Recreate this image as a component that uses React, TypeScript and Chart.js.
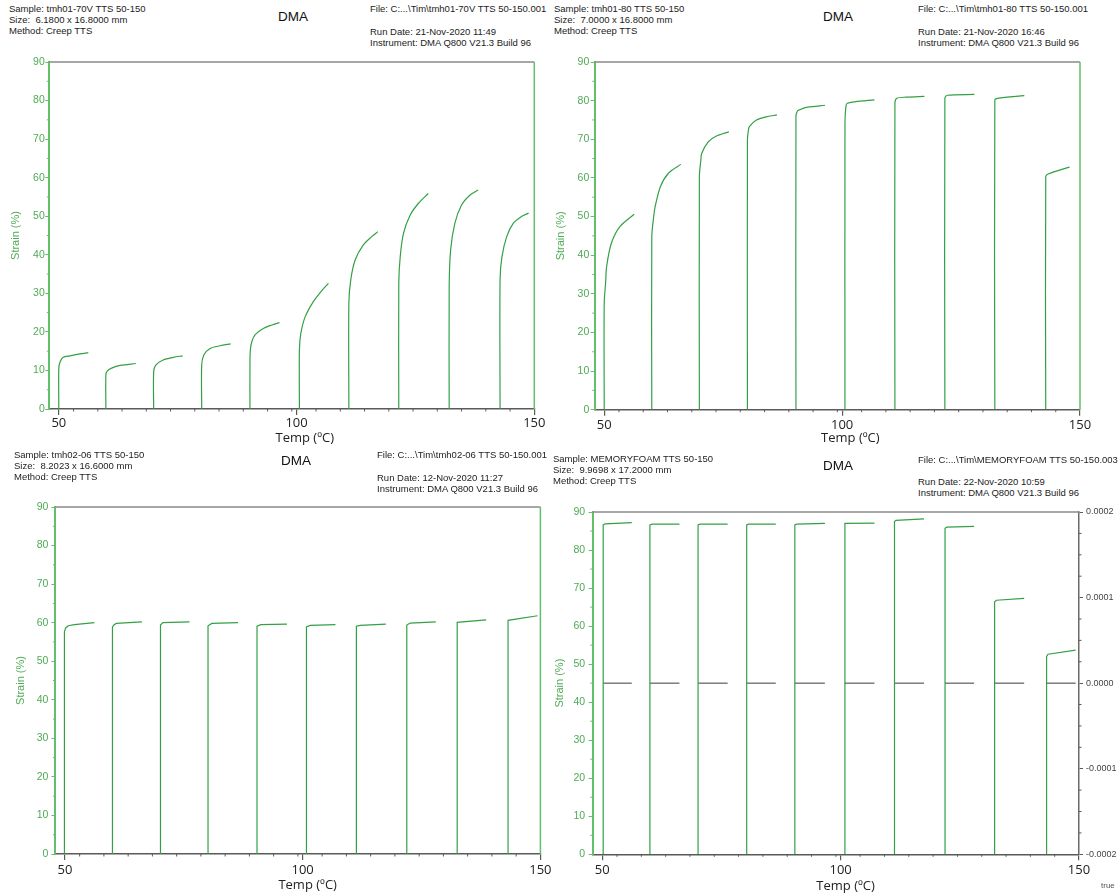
import React, { useEffect, useRef } from 'react';
import { Chart, registerables } from 'chart.js';

Chart.register(...registerables);

// ---------------- data (Temp °C / Strain %) ----------------
// Panel 1: tmh01-70V
const tmh0170vTemp: number[][] = [
  [50.0, 50.0, 50.3, 50.9, 52.35, 54.45, 56.2],
  [59.9, 59.9, 60.2, 61.1, 62.9, 66.2],
  [69.95, 69.95, 70.4, 71.95, 74.1, 76.05],
  [80.05, 80.05, 80.5, 81.8, 83.9, 86.15],
  [90.2, 90.2, 90.3, 90.6, 91.3, 93.0, 94.8, 96.4],
  [100.6, 100.6, 100.9, 101.8, 103.5, 105.3, 106.7],
  [111.0, 111.0, 111.4, 112.3, 114.0, 115.8, 117.1],
  [121.5, 121.5, 121.8, 122.5, 123.9, 125.6, 127.7],
  [132.1, 132.1, 132.4, 133.3, 134.7, 136.5, 138.2],
  [142.8, 142.8, 143.2, 144.2, 145.6, 147.3, 148.8],
];
const tmh0170vStrain: number[][] = [
  [0, 10.6, 12.3, 13.4, 13.8, 14.3, 14.6],
  [0, 8.8, 9.9, 10.6, 11.3, 11.8],
  [0, 9.7, 11.4, 12.7, 13.4, 13.8],
  [0, 11.4, 14.0, 15.7, 16.4, 16.9],
  [0, 12.0, 15.5, 17.5, 19.3, 20.9, 21.8, 22.4],
  [0, 15.3, 19.6, 23.9, 27.8, 30.7, 32.6],
  [0, 27.4, 33.5, 38.6, 42.5, 44.7, 46.0],
  [0, 32.6, 39.5, 45.6, 50.3, 53.3, 55.9],
  [0, 31.7, 41.2, 48.2, 52.9, 55.5, 56.8],
  [0, 33.5, 39.5, 44.7, 48.2, 49.9, 50.8],
];

// Panel 2: tmh01-80
const tmh0180Temp: number[][] = [
  [50.0, 50.0, 50.3, 50.5, 51.5, 53.3, 56.3],
  [60.0, 60.0, 60.4, 60.7, 61.8, 63.5, 66.1],
  [70.0, 70.0, 70.3, 70.5, 71.9, 73.5, 76.2],
  [80.1, 80.1, 80.3, 80.5, 82.0, 84.0, 86.3],
  [90.3, 90.3, 90.6, 91.0, 92.8, 96.4],
  [100.6, 100.6, 100.8, 101.1, 102.7, 106.8],
  [111.1, 111.1, 111.5, 113.5, 117.3],
  [121.6, 121.6, 122.1, 127.8],
  [132.1, 132.1, 132.7, 138.3],
  [142.8, 142.8, 143.3, 147.8],
];
const tmh0180Strain: number[][] = [
  [0, 27.5, 33.0, 37.0, 43.1, 47.4, 50.6],
  [0, 44.8, 50.0, 52.5, 57.7, 61.2, 63.5],
  [0, 60.3, 64.5, 66.4, 69.4, 70.8, 71.9],
  [0, 69.8, 72.3, 73.3, 75.0, 75.8, 76.3],
  [0, 75.9, 77.3, 77.6, 78.3, 78.8],
  [0, 74.1, 78.5, 79.3, 79.7, 80.2],
  [0, 79.3, 80.6, 80.9, 81.1],
  [0, 80.6, 81.4, 81.6],
  [0, 80.2, 80.6, 81.3],
  [0, 60.3, 61.0, 62.8],
];

// Panel 3: tmh02-06
const tmh0206Temp: number[][] = [
  [49.9, 49.9, 50.2, 50.7, 52.0, 56.2],
  [60.0, 60.0, 60.3, 60.8, 66.2],
  [70.1, 70.1, 70.6, 76.2],
  [80.1, 80.1, 80.9, 86.4],
  [90.4, 90.4, 91.2, 96.7],
  [100.8, 100.8, 101.6, 106.9],
  [111.3, 111.3, 112.1, 117.5],
  [121.9, 121.9, 122.6, 128.0],
  [132.5, 132.5, 138.6],
  [143.2, 143.2, 149.4],
];
const tmh0206Strain: number[][] = [
  [0, 57.7, 58.7, 59.2, 59.5, 60.0],
  [0, 58.9, 59.4, 59.8, 60.2],
  [0, 59.4, 60.0, 60.2],
  [0, 59.2, 59.8, 60.0],
  [0, 59.1, 59.5, 59.6],
  [0, 58.9, 59.3, 59.5],
  [0, 59.1, 59.3, 59.6],
  [0, 59.4, 59.9, 60.2],
  [0, 60.1, 60.7],
  [0, 60.6, 61.8],
];

// Panel 4: MEMORYFOAM
const memoryfoamTemp: number[][] = [
  [50.2, 50.2, 50.6, 56.2],
  [60.0, 60.0, 60.5, 66.2],
  [70.1, 70.1, 70.5, 76.3],
  [80.3, 80.3, 80.7, 86.4],
  [90.4, 90.4, 90.8, 96.7],
  [100.9, 100.9, 107.1],
  [111.3, 111.3, 111.6, 117.5],
  [121.9, 121.9, 122.3, 128.0],
  [132.3, 132.3, 132.7, 138.5],
  [143.2, 143.2, 143.5, 149.3],
];
const memoryfoamStrain: number[][] = [
  [0, 86.6, 86.9, 87.2],
  [0, 86.6, 86.8, 86.8],
  [0, 86.6, 86.8, 86.8],
  [0, 86.6, 86.8, 86.8],
  [0, 86.6, 86.8, 87.0],
  [0, 87.0, 87.1],
  [0, 87.5, 87.8, 88.2],
  [0, 85.7, 86.0, 86.2],
  [0, 66.4, 66.8, 67.3],
  [0, 52.0, 52.6, 53.7],
];
// secondary (right axis) trace of the memory foam run
const memoryfoamRightTemp: number[][] = [
  [50.2, 56.2], [60.0, 66.2], [70.1, 76.3], [80.3, 86.4], [90.4, 96.7],
  [100.9, 107.1], [111.3, 117.5], [121.9, 128.0], [132.3, 138.5], [143.2, 149.3],
];
const memoryfoamRightValue: number[][] = [
  [0, 0], [0, 0], [0, 0], [0, 0], [0, 0],
  [0, 0], [0, 0], [0, 0], [0, 0], [0, 0],
];

const xMajorTicks = [50, 100, 150];
const xMin = 48;
const xMax = 150;
const yMin = 0;
const yMax = 90;
const yStep = 10;

// ---------------- styling ----------------
const LINE_GREEN = '#34a044';
const AXIS_GREEN = '#62bf6a';
const TEXT_GREEN = '#4faa55';
const AXIS_GREY = '#5a5a5a';
const TOP_GREY = '#8a8a8a';
const HEAD_FONT = '"Liberation Sans", Arial, sans-serif';
const TICK_FONT = '"Open Sans", "Noto Sans", sans-serif';

type Box = { left: number; top: number; width: number; height: number };
type Area = { left: number; top: number; right: number; bottom: number };

interface PanelCfg {
  canvas: Box;
  area: Area;
  temps: number[][];
  strains: number[][];
  rightTemps?: number[][];
  rightValues?: number[][];
  rightAxisWidth: number;
  tension: number;
  yTitlePad: number;
  yTickPad: number;
  xTickPad: number;
  xTitlePad: number;
  xTitleShift: number;
}

const panels: PanelCfg[] = [
  {
    canvas: { left: 0, top: 52, width: 560, height: 398 },
    area: { left: 49.3, top: 62, right: 534.3, bottom: 409 },
    temps: tmh0170vTemp, strains: tmh0170vStrain, tension: 0.3,
    rightAxisWidth: 0, yTitlePad: 9.4, yTickPad: 0.5, xTickPad: 0, xTitlePad: 4, xTitleShift: 4,
  },
  {
    canvas: { left: 545, top: 52, width: 574, height: 398 },
    area: { left: 594.7, top: 62, right: 1080, bottom: 409.7 },
    temps: tmh0180Temp, strains: tmh0180Strain, tension: 0.3,
    rightAxisWidth: 0, yTitlePad: 9.4, yTickPad: 1.4, xTickPad: 1.5, xTitlePad: 4, xTitleShift: 4,
  },
  {
    canvas: { left: 0, top: 497, width: 560, height: 398 },
    area: { left: 55.4, top: 507, right: 540.4, bottom: 854 },
    temps: tmh0206Temp, strains: tmh0206Strain, tension: 0,
    rightAxisWidth: 0, yTitlePad: 14.4, yTickPad: 3, xTickPad: 2, xTitlePad: 2, xTitleShift: 3,
  },
  {
    canvas: { left: 545, top: 502, width: 574, height: 393 },
    area: { left: 592.7, top: 512, right: 1079, bottom: 854.3 },
    temps: memoryfoamTemp, strains: memoryfoamStrain, tension: 0,
    rightTemps: memoryfoamRightTemp, rightValues: memoryfoamRightValue,
    rightAxisWidth: 40, yTitlePad: 8.4, yTickPad: 3.5, xTickPad: 2, xTitlePad: 1, xTitleShift: 3,
  },
];

const headers = [
  { x: 9, y: 9, text: 'Sample: tmh01-70V TTS 50-150' },
  { x: 9, y: 20, text: 'Size:  6.1800 x 16.8000 mm' },
  { x: 9, y: 31, text: 'Method: Creep TTS' },
  { x: 370, y: 9, text: 'File: C:...\\Tim\\tmh01-70V TTS 50-150.001' },
  { x: 370, y: 32, text: 'Run Date: 21-Nov-2020 11:49' },
  { x: 370, y: 43, text: 'Instrument: DMA Q800 V21.3 Build 96' },

  { x: 554, y: 9, text: 'Sample: tmh01-80 TTS 50-150' },
  { x: 554, y: 20, text: 'Size:  7.0000 x 16.8000 mm' },
  { x: 554, y: 31, text: 'Method: Creep TTS' },
  { x: 918, y: 9, text: 'File: C:...\\Tim\\tmh01-80 TTS 50-150.001' },
  { x: 918, y: 32, text: 'Run Date: 21-Nov-2020 16:46' },
  { x: 918, y: 43, text: 'Instrument: DMA Q800 V21.3 Build 96' },

  { x: 14, y: 455, text: 'Sample: tmh02-06 TTS 50-150' },
  { x: 14, y: 466, text: 'Size:  8.2023 x 16.6000 mm' },
  { x: 14, y: 477, text: 'Method: Creep TTS' },
  { x: 377, y: 455, text: 'File: C:...\\Tim\\tmh02-06 TTS 50-150.001' },
  { x: 377, y: 477.5, text: 'Run Date: 12-Nov-2020 11:27' },
  { x: 377, y: 489, text: 'Instrument: DMA Q800 V21.3 Build 96' },

  { x: 553, y: 459, text: 'Sample: MEMORYFOAM TTS 50-150' },
  { x: 553, y: 470, text: 'Size:  9.9698 x 17.2000 mm' },
  { x: 553, y: 481, text: 'Method: Creep TTS' },
  { x: 918, y: 460, text: 'File: C:...\\Tim\\MEMORYFOAM TTS 50-150.003' },
  { x: 918, y: 482, text: 'Run Date: 22-Nov-2020 10:59' },
  { x: 918, y: 493, text: 'Instrument: DMA Q800 V21.3 Build 96' },
];

const titles = [
  { cx: 293, y: 17, text: 'DMA' },
  { cx: 838, y: 17, text: 'DMA' },
  { cx: 296, y: 461, text: 'DMA' },
  { cx: 838, y: 466, text: 'DMA' },
];

// ---------------- plugin: frame + minor ticks ----------------
const decorPlugin = {
  id: 'decor',
  afterDraw(chart: any, _args: any, opts: any) {
    const { ctx, chartArea: a, scales } = chart;
    ctx.save();
    const line = (x1: number, y1: number, x2: number, y2: number) => {
      ctx.beginPath();
      ctx.moveTo(x1, y1);
      ctx.lineTo(x2, y2);
      ctx.stroke();
    };
    // top frame line
    ctx.strokeStyle = TOP_GREY;
    ctx.lineWidth = 1.5;
    line(a.left, a.top, a.right, a.top);
    if (opts.rightGreen) {
      ctx.strokeStyle = AXIS_GREEN;
      ctx.lineWidth = 1.5;
      line(a.right, a.top, a.right, a.bottom);
    }
    // minor ticks
    ctx.lineWidth = 1;
    const xs = scales.x;
    ctx.strokeStyle = AXIS_GREY;
    const xStep = (xMax - xMin) / 20;
    for (let k = 1; k < 20; k++) {
      const p = xs.getPixelForValue(xMin + xStep * k);
      line(p, a.bottom, p, a.bottom + 2.5);
    }
    const ys = scales.y;
    ctx.strokeStyle = AXIS_GREEN;
    for (let v = yMin + yStep / 2; v < yMax; v += yStep) {
      const p = ys.getPixelForValue(v);
      line(a.left - 2.5, p, a.left, p);
    }
    if (scales.y2) {
      const s = scales.y2;
      ctx.strokeStyle = AXIS_GREY;
      for (let k = -8; k <= 8; k++) {
        if (k % 4 === 0) continue;
        const p = s.getPixelForValue(k * 0.000025);
        line(a.right, p, a.right + 2.5, p);
      }
    }
    ctx.restore();
  },
};

function buildConfig(p: PanelCfg): any {
  const yW = p.area.left - p.canvas.left;
  const xH = p.canvas.top + p.canvas.height - p.area.bottom;
  const padRight = p.canvas.left + p.canvas.width - p.area.right - p.rightAxisWidth;
  const padTop = p.area.top - p.canvas.top;

  const datasets: any[] = p.temps.map((seg, i) => ({
    data: seg.map((t, j) => ({ x: t, y: p.strains[i][j] })),
    borderColor: LINE_GREEN,
    borderWidth: 1.2,
    pointRadius: 0,
    tension: p.tension,
    fill: false,
    yAxisID: 'y',
  }));
  if (p.rightTemps && p.rightValues) {
    p.rightTemps.forEach((seg, i) => {
      datasets.push({
        data: seg.map((t, j) => ({ x: t, y: p.rightValues![i][j] })),
        borderColor: '#3c3c3c',
        borderWidth: 1,
        pointRadius: 0,
        tension: 0,
        fill: false,
        yAxisID: 'y2',
      });
    });
  }

  const scales: any = {
    x: {
      type: 'linear',
      position: 'bottom',
      min: xMin,
      max: xMax,
      afterBuildTicks: (s: any) => {
        s.ticks = xMajorTicks.map((v) => ({ value: v }));
      },
      afterFit: (s: any) => {
        s.height = xH;
        s.paddingLeft = 0;
        s.paddingRight = 0;
      },
      grid: { drawOnChartArea: false, drawTicks: true, tickLength: 6, color: AXIS_GREY, lineWidth: 1.2 },
      border: { display: true, color: AXIS_GREY, width: 1.5 },
      ticks: {
        autoSkip: false,
        maxRotation: 0,
        padding: p.xTickPad,
        color: '#222',
        font: { family: TICK_FONT, size: 13 },
        callback: (v: any) => String(v),
      },
      title: {
        display: true,
        text: '\u2002'.repeat(p.xTitleShift) + 'Temp (ºC)',
        color: '#222',
        font: { family: TICK_FONT, size: 13 },
        padding: { top: 0, bottom: p.xTitlePad },
      },
    },
    y: {
      type: 'linear',
      position: 'left',
      min: yMin,
      max: yMax,
      afterFit: (s: any) => {
        s.width = yW;
        s.paddingTop = 0;
        s.paddingBottom = 0;
      },
      grid: { drawOnChartArea: false, drawTicks: true, tickLength: 4, color: AXIS_GREEN },
      border: { display: true, color: AXIS_GREEN, width: 2 },
      ticks: {
        stepSize: yStep,
        padding: p.yTickPad,
        color: TEXT_GREEN,
        font: { family: HEAD_FONT, size: 10.5 },
      },
      title: {
        display: true,
        text: 'Strain (%)',
        color: TEXT_GREEN,
        font: { family: HEAD_FONT, size: 11 },
        padding: { top: p.yTitlePad, bottom: 0 },
      },
    },
  };
  if (p.rightAxisWidth > 0) {
    scales.y2 = {
      type: 'linear',
      position: 'right',
      min: -0.0002,
      max: 0.0002,
      afterFit: (s: any) => {
        s.width = p.rightAxisWidth;
        s.paddingTop = 0;
        s.paddingBottom = 0;
      },
      grid: { drawOnChartArea: false, drawTicks: true, tickLength: 4, color: AXIS_GREY },
      border: { display: true, color: '#6a6a6a', width: 1.5 },
      ticks: {
        stepSize: 0.0001,
        padding: 3,
        color: '#444',
        font: { family: HEAD_FONT, size: 9 },
        callback: (v: any) => (Math.abs(Number(v)) < 1e-9 ? '0.0000' : Number(v).toFixed(4)),
      },
    };
  }

  return {
    type: 'line',
    data: { datasets },
    plugins: [decorPlugin],
    options: {
      responsive: false,
      maintainAspectRatio: false,
      devicePixelRatio: 1,
      animation: false,
      layout: { padding: { left: 0, top: padTop, right: padRight, bottom: 0 } },
      plugins: {
        legend: { display: false },
        tooltip: { enabled: false },
        decor: { rightGreen: p.rightAxisWidth === 0 },
      },
      scales,
    },
  };
}

function Panel({ cfg }: { cfg: PanelCfg }) {
  const ref = useRef<HTMLCanvasElement>(null);
  useEffect(() => {
    const chart = new Chart(ref.current as HTMLCanvasElement, buildConfig(cfg));
    return () => chart.destroy();
  }, [cfg]);
  const c = cfg.canvas;
  return (
    <canvas
      ref={ref}
      width={c.width}
      height={c.height}
      style={{ position: 'absolute', left: c.left, top: c.top, width: c.width, height: c.height }}
    />
  );
}

export default function App() {
  return (
    <div
      style={{
        position: 'absolute',
        left: 0,
        top: 0,
        width: 1119,
        height: 895,
        overflow: 'hidden',
        background: '#fff',
      }}
    >
      {panels.map((p, i) => (
        <Panel key={i} cfg={p} />
      ))}
      {headers.map((h, i) => (
        <div
          key={'h' + i}
          style={{
            position: 'absolute',
            left: h.x,
            top: h.y - 6,
            fontFamily: HEAD_FONT,
            fontSize: 9.5,
            lineHeight: '12px',
            color: '#222',
            whiteSpace: 'pre',
          }}
        >
          {h.text}
        </div>
      ))}
      {titles.map((t, i) => (
        <div
          key={'t' + i}
          style={{
            position: 'absolute',
            left: t.cx - 40,
            width: 80,
            top: t.y - 9,
            textAlign: 'center',
            fontFamily: HEAD_FONT,
            fontSize: 13.5,
            lineHeight: '18px',
            color: '#111',
          }}
        >
          {t.text}
        </div>
      ))}
      <div
        style={{
          position: 'absolute',
          left: 1101,
          top: 881,
          fontFamily: HEAD_FONT,
          fontSize: 8,
          lineHeight: '10px',
          color: '#555',
          whiteSpace: 'pre',
        }}
      >
        true
      </div>
    </div>
  );
}
